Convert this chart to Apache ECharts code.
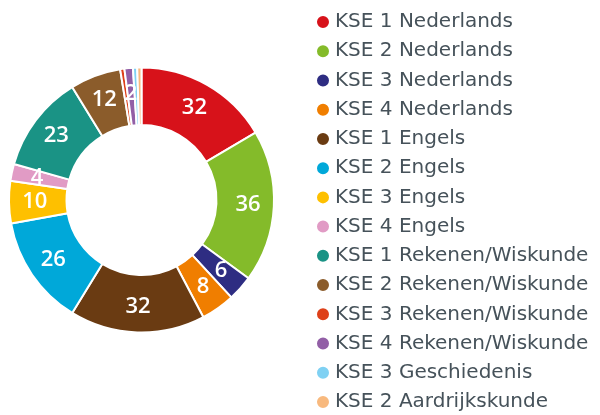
<!DOCTYPE html>
<html><head><meta charset="utf-8">
<script src="https://cdn.jsdelivr.net/npm/echarts@6/dist/echarts.min.js"></script>
<style>html,body{margin:0;padding:0;background:#fff}#c{width:600px;height:415px}</style>
</head><body><div id="c"></div>
<script>
const categories = ["KSE 1 Nederlands","KSE 2 Nederlands","KSE 3 Nederlands","KSE 4 Nederlands","KSE 1 Engels","KSE 2 Engels","KSE 3 Engels","KSE 4 Engels","KSE 1 Rekenen/Wiskunde","KSE 2 Rekenen/Wiskunde","KSE 3 Rekenen/Wiskunde","KSE 4 Rekenen/Wiskunde","KSE 3 Geschiedenis","KSE 2 Aardrijkskunde"];
const values = [32,36,6,8,32,26,10,4,23,12,1,2,1,1];
const colors = ["#d7121a","#84bb2a","#2e2d82","#f07e00","#6a3b12","#00a8d9","#fec000","#e19bc5","#1a9385","#8b5c2b","#de4019","#925fa6","#7fd1f3","#f8b97e"];

const chart = echarts.init(document.getElementById('c'), null, {renderer:'canvas'});
chart.setOption({
  animation:false,
  color: colors,
  legend:{
    orient:'vertical', left:315, top:12, bottom:0, padding:0,
    icon:'circle', itemWidth:14, itemHeight:14, itemGap:9.23,
    textStyle:{fontFamily:'DejaVu Sans', fontSize:20, color:'#46525a', lineHeight:20},
    data: categories
  },
  series:[{
    type:'pie',
    center:[141.5,200],
    radius:[75,132.5],
    startAngle:90,
    clockwise:true,
    avoidLabelOverlap:false,
    itemStyle:{borderColor:'#fff', borderWidth:2},
    label:{
      show:true, position:'inside', color:'#fff',
      fontFamily:'Open Sans', fontSize:22, fontWeight:600,
      formatter: p => p.value >= 2 ? String(p.value) : ''
    },
    labelLine:{show:false},
    data: categories.map((n,i)=>({name:n, value:values[i]}))
  }]
});
</script></body></html>
